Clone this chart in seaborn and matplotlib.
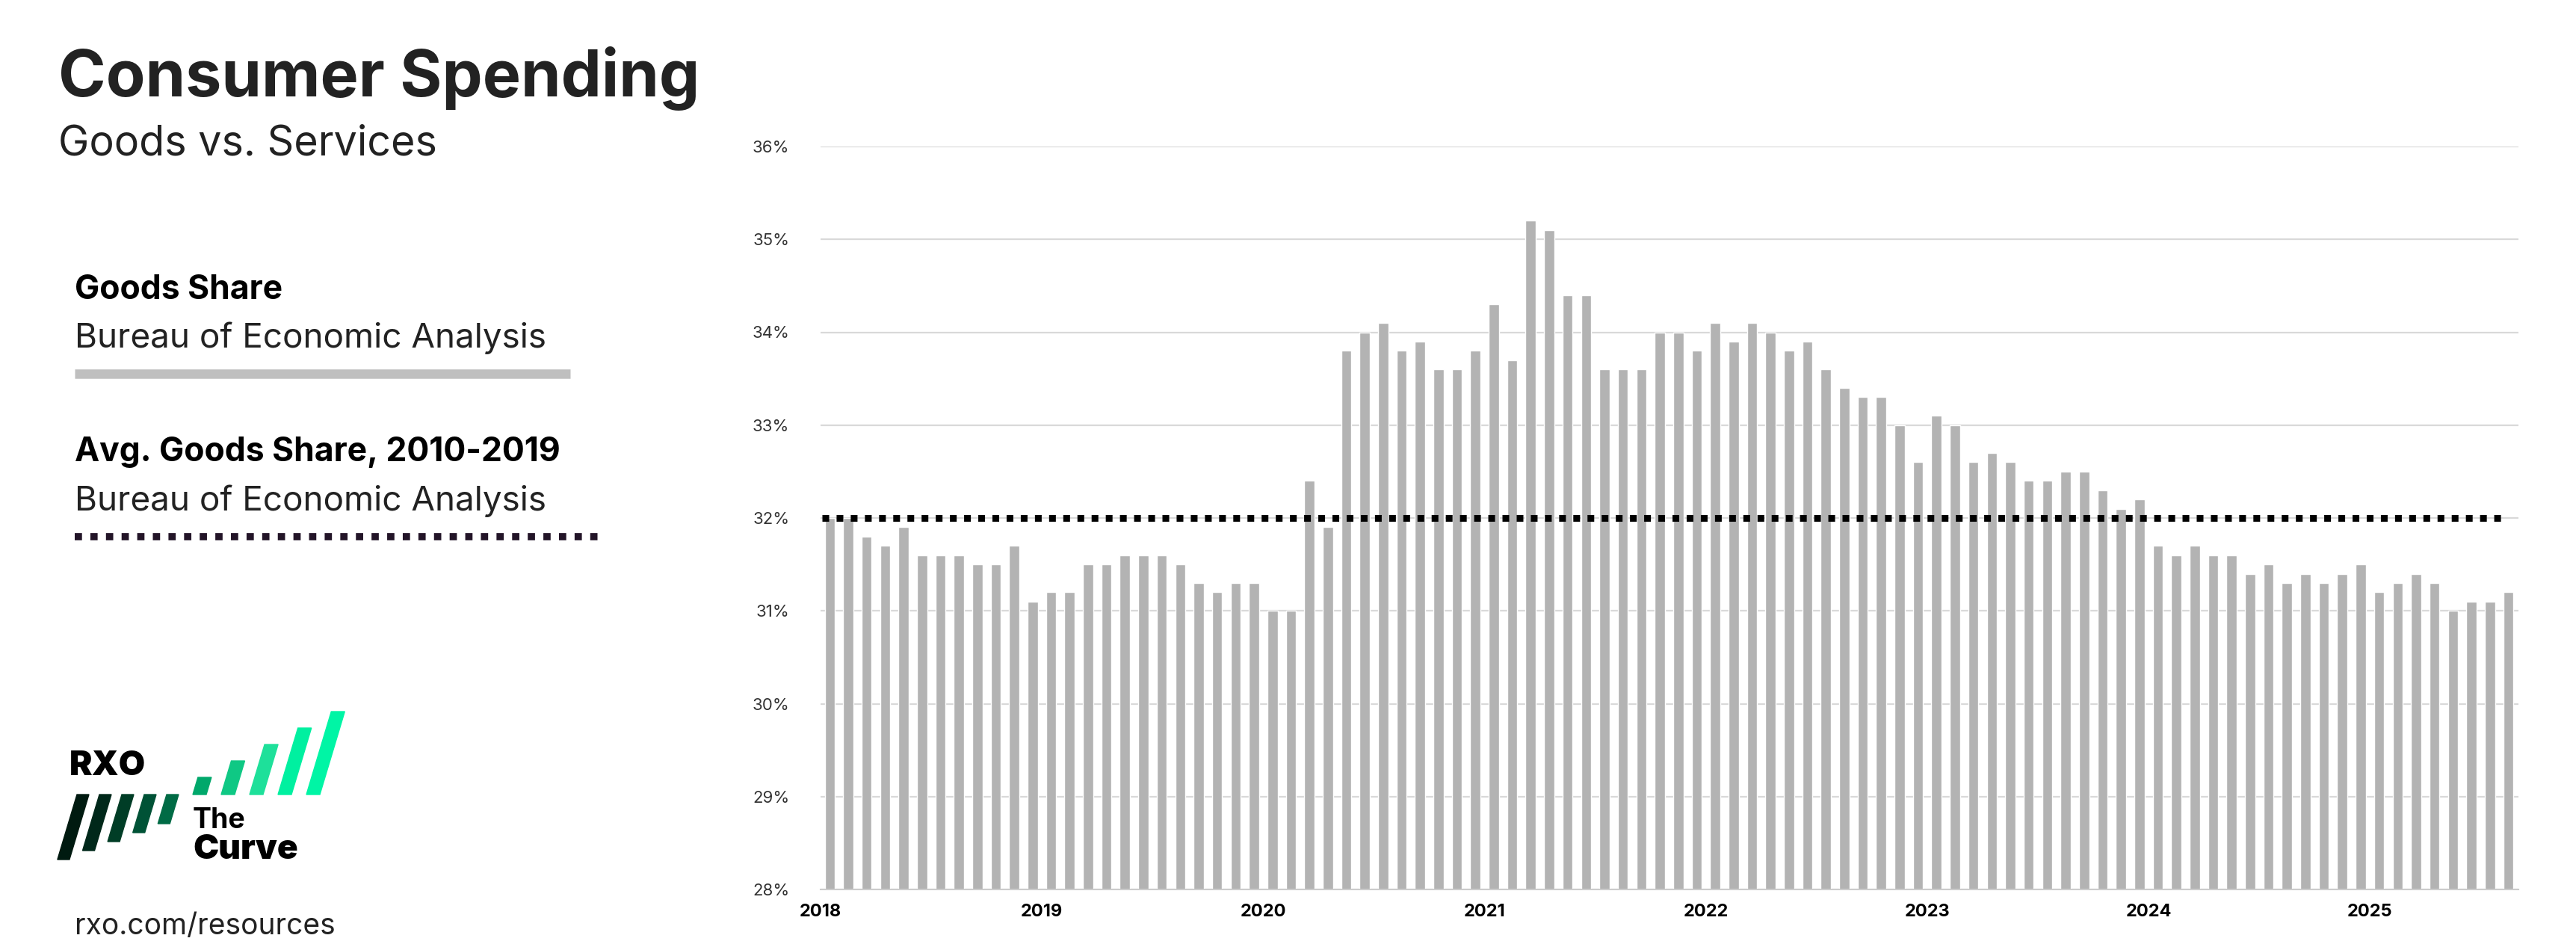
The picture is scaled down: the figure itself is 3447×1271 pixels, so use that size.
import numpy as np
import pandas as pd
import matplotlib
matplotlib.use('Agg')
import matplotlib.pyplot as plt
from matplotlib.patches import Polygon
import seaborn as sns

# monthly goods share of consumer spending, Jan 2018 - Aug 2025 (%)
years = [2018, 2019, 2020, 2021, 2022, 2023, 2024, 2025]
goods_share = [
    32.0, 32.0, 31.8, 31.7, 31.9, 31.6, 31.6, 31.6, 31.5, 31.5, 31.7, 31.1,  # 2018
    31.2, 31.2, 31.5, 31.5, 31.6, 31.6, 31.6, 31.5, 31.3, 31.2, 31.3, 31.3,  # 2019
    31.0, 31.0, 32.4, 31.9, 33.8, 34.0, 34.1, 33.8, 33.9, 33.6, 33.6, 33.8,  # 2020
    34.3, 33.7, 35.2, 35.1, 34.4, 34.4, 33.6, 33.6, 33.6, 34.0, 34.0, 33.8,  # 2021
    34.1, 33.9, 34.1, 34.0, 33.8, 33.9, 33.6, 33.4, 33.3, 33.3, 33.0, 32.6,  # 2022
    33.1, 33.0, 32.6, 32.7, 32.6, 32.4, 32.4, 32.5, 32.5, 32.3, 32.1, 32.2,  # 2023
    31.7, 31.6, 31.7, 31.6, 31.6, 31.4, 31.5, 31.3, 31.4, 31.3, 31.4, 31.5,  # 2024
    31.2, 31.3, 31.4, 31.3, 31.0, 31.1, 31.1, 31.2,                          # 2025
]
avg_share = 32.0
y_ticks = [28, 29, 30, 31, 32, 33, 34, 35, 36]

W, H = 3448, 1271
FONT = 'Inter'
sns.set_theme(style='white')
plt.rcParams['font.family'] = [FONT, 'DejaVu Sans']

df = pd.DataFrame({'month': [f'm{i}' for i in range(len(goods_share))], 'share': goods_share})

fig = plt.figure(figsize=(W / 100, H / 100), dpi=100)
ax = fig.add_axes([1098 / W, 1 - 1190 / H, (3370 - 1098) / W, (1190 - 196) / H])

sns.barplot(data=df, x='month', y='share', color='#b3b3b3', saturation=1, width=0.55, ax=ax)
n = len(goods_share)
ax.plot([-0.4, n - 1.4], [avg_share, avg_share], color='black', lw=6.5,
        dashes=(1, 1.1), solid_capstyle='butt', dash_capstyle='butt', zorder=5)

ax.set_ylim(28, 36)
ax.set_xlim(-0.5, n - 0.45)
ax.set_yticks(y_ticks)
ax.set_yticklabels([f'{t}%' for t in y_ticks], fontsize=16, color='#333333')
ax.yaxis.grid(True, color='#d9d9d9', lw=1.6)
ax.set_axisbelow(True)
for s in ['top', 'right', 'left']:
    ax.spines[s].set_visible(False)
ax.spines['bottom'].set_color('#cccccc')
ax.spines['bottom'].set_linewidth(1.5)
ax.tick_params(axis='y', length=0, pad=30)

ax.set_xticks(np.arange(n + 1) - 0.5, minor=True)
ax.set_xticks([i * 12 - 0.5 for i in range(len(years))])
ax.set_xticklabels([str(y) for y in years], fontsize=17, fontweight='bold', color='black')
ax.tick_params(axis='x', which='minor', length=8, color='#cccccc', width=1.5)
ax.tick_params(axis='x', which='major', length=0, pad=14)
ax.set_xlabel('')
ax.set_ylabel('')


def px(x, y):
    return x / W, 1 - y / H


fig.text(*px(78, 105), 'Consumer Spending', fontsize=62, fontweight='bold', color='#222222', va='center')
fig.text(*px(78, 193), 'Goods vs. Services', fontsize=40, color='#222222', va='center')

fig.text(*px(100, 388), 'Goods Share', fontsize=32, fontweight='bold', color='black', va='center')
fig.text(*px(100, 452), 'Bureau of Economic Analysis', fontsize=33, color='#222222', va='center')
fig.add_artist(plt.Line2D([100 / W, 763 / W], [1 - 500 / H] * 2, color='#bfbfbf', lw=9, solid_capstyle='butt'))

fig.text(*px(100, 605), 'Avg. Goods Share, 2010-2019', fontsize=32, fontweight='bold', color='black', va='center')
fig.text(*px(100, 670), 'Bureau of Economic Analysis', fontsize=33, color='#222222', va='center')
fig.add_artist(plt.Line2D([100 / W, 808 / W], [1 - 718 / H] * 2, color='#231528', lw=7,
                          dashes=(1, 1.15), dash_capstyle='butt'))

# logo
fig.text(*px(93, 1025), 'RXO', fontsize=33, fontweight='black', color='black', va='center')
fig.text(*px(258, 1098), 'The', fontsize=27, fontweight='bold', color='black', va='center')
fig.text(*px(258, 1137), 'Curve', fontsize=33, fontweight='black', color='black', va='center')
fig.text(*px(100, 1240), 'rxo.com/resources', fontsize=28, color='#222222', va='center')

greens = ['#00a86b', '#0fc884', '#1ee09a', '#00f0a0', '#00f5a5']
for i, c in enumerate(greens):
    x0 = 258 + i * 38
    top = 1040 - i * 22
    pts = [px(x0, 1063), px(x0 + 18, 1063), px(x0 + 18 + (1063 - top) * 0.3, top), px(x0 + (1063 - top) * 0.3, top)]
    fig.add_artist(Polygon(pts, closed=True, color=c, transform=fig.transFigure))
darks = ['#001a10', '#00281a', '#003d26', '#005236', '#006b45']
for i, c in enumerate(darks):
    x0 = 93 + i * 30
    bot = 1150 - i * 12
    pts = [px(x0 + 10, 1063), px(x0 + 26, 1063), px(x0 + 26 - (bot - 1063) * 0.3, bot), px(x0 + 10 - (bot - 1063) * 0.3, bot)]
    fig.add_artist(Polygon(pts, closed=True, color=c, transform=fig.transFigure))

fig.savefig('out.png', dpi=100, facecolor='white')
